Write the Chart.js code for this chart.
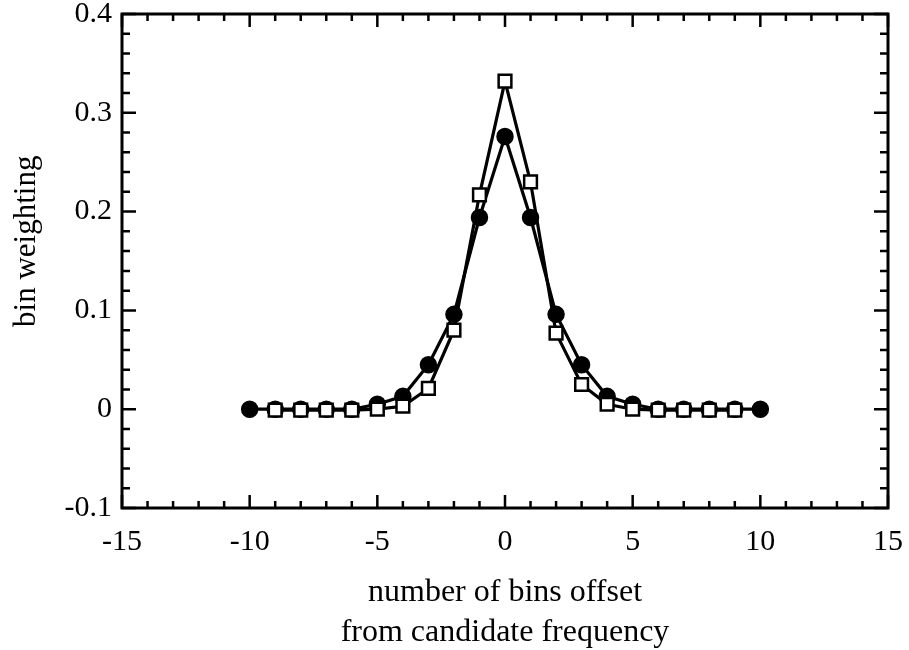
<!DOCTYPE html>
<html>
<head>
<meta charset="utf-8">
<script src="https://cdn.jsdelivr.net/npm/chart.js@4.4.1/dist/chart.umd.min.js"></script>
<style>
  html, body { margin: 0; padding: 0; background: #fff; }
  #c { display: block; }
</style>
</head>
<body>
<canvas id="c" width="909" height="650"></canvas>
<script>
// ---- data ----
const circleX = [-10, -9, -8, -7, -6, -5, -4, -3, -2, -1, 0, 1, 2, 3, 4, 5, 6, 7, 8, 9, 10];
const circleY = [0, 0, 0, 0, 0, 0.005, 0.013, 0.045, 0.096, 0.194, 0.276, 0.194, 0.096, 0.045, 0.013, 0.005, 0, 0, 0, 0, 0];
const squareX = [-9, -8, -7, -6, -5, -4, -3, -2, -1, 0, 1, 2, 3, 4, 5, 6, 7, 8, 9];
const squareY = [-0.001, -0.001, -0.001, -0.001, 0, 0.003, 0.021, 0.080, 0.217, 0.332, 0.230, 0.077, 0.025, 0.005, 0, -0.001, -0.001, -0.001, -0.001];
const xTickValues = [-15, -10, -5, 0, 5, 10, 15];
const yTickValues = [-0.1, 0, 0.1, 0.2, 0.3, 0.4];
const xTitleLines = ['number of bins offset', 'from candidate frequency'];
const yTitle = 'bin weighting';

const FONT = "'Liberation Serif', 'Times New Roman', Times, serif";

const toPts = (xs, ys) => xs.map((x, i) => ({ x: x, y: ys[i] }));

// frame + inward ticks on all four sides, positioned through the chart's scales
const frameTicks = {
  id: 'frameTicks',
  afterDraw(chart) {
    const { ctx, chartArea: a, scales: { x, y } } = chart;
    ctx.save();
    ctx.strokeStyle = '#000';
    ctx.lineCap = 'butt';
    ctx.lineWidth = 2.5;
    for (let i = -15; i <= 15; i++) {
      const px = x.getPixelForValue(i);
      const len = (i % 5 === 0) ? 13 : 7;
      ctx.beginPath();
      ctx.moveTo(px, a.bottom); ctx.lineTo(px, a.bottom - len);
      ctx.moveTo(px, a.top); ctx.lineTo(px, a.top + len);
      ctx.stroke();
    }
    for (let i = -5; i <= 20; i++) {
      const py = y.getPixelForValue(i * 0.02);
      const len = (i % 5 === 0) ? 14 : 8;
      ctx.beginPath();
      ctx.moveTo(a.left, py); ctx.lineTo(a.left + len, py);
      ctx.moveTo(a.right, py); ctx.lineTo(a.right - len, py);
      ctx.stroke();
    }
    ctx.lineWidth = 3;
    ctx.strokeRect(a.left, a.top, a.right - a.left, a.bottom - a.top);

    // y-axis title (rotated), placed slightly above the plot's middle as in the reference
    ctx.fillStyle = '#000';
    ctx.font = "31px " + FONT;
    ctx.textAlign = 'center';
    ctx.textBaseline = 'middle';
    ctx.translate(27, y.getPixelForValue(0.17));
    ctx.rotate(-Math.PI / 2);
    ctx.fillText(yTitle, 0, 0);
    ctx.restore();
  }
};

new Chart(document.getElementById('c'), {
  type: 'scatter',
  data: {
    datasets: [
      {
        label: 'squares',
        data: toPts(squareX, squareY),
        showLine: true,
        borderColor: '#000',
        borderWidth: 3.2,
        pointStyle: 'rect',
        pointRadius: 9,
        pointBackgroundColor: '#fff',
        pointBorderColor: '#000',
        pointBorderWidth: 2.5,
        order: 1
      },
      {
        label: 'circles',
        data: toPts(circleX, circleY),
        showLine: true,
        borderColor: '#000',
        borderWidth: 3.2,
        pointStyle: 'circle',
        pointRadius: 8,
        pointBackgroundColor: '#000',
        pointBorderColor: '#000',
        pointBorderWidth: 1.5,
        order: 2
      }
    ]
  },
  options: {
    responsive: false,
    animation: false,
    events: [],
    layout: { padding: { top: 14, right: 21, left: 0, bottom: 0 } },
    plugins: { legend: { display: false }, tooltip: { enabled: false } },
    scales: {
      x: {
        type: 'linear',
        min: -15, max: 15,
        afterBuildTicks: (s) => { s.ticks = xTickValues.map(v => ({ value: v })); },
        afterFit: (s) => { s.height = 142; s.paddingLeft = 0; s.paddingRight = 0; },
        grid: { display: false, drawTicks: false },
        border: { display: false },
        ticks: {
          color: '#000',
          padding: 19,
          maxRotation: 0,
          autoSkip: false,
          font: { family: FONT, size: 30, lineHeight: 1.0 },
          callback: (v) => String(v)
        },
        title: {
          display: true,
          text: xTitleLines,
          color: '#000',
          font: { family: FONT, size: 32, lineHeight: 1.25 },
          padding: { top: 0, bottom: -3 }
        }
      },
      y: {
        type: 'linear',
        min: -0.1, max: 0.4,
        afterBuildTicks: (s) => { s.ticks = yTickValues.map(v => ({ value: v })); },
        afterFit: (s) => { s.width = 122; s.paddingTop = 0; s.paddingBottom = 0; },
        grid: { display: false, drawTicks: false },
        border: { display: false },
        ticks: {
          color: '#000',
          padding: 10,
          autoSkip: false,
          font: { family: FONT, size: 30, lineHeight: 1.0 },
          callback: (v) => Math.abs(v) < 1e-9 ? '0' : Number(v).toFixed(1)
        },
        title: { display: false }
      }
    }
  },
  plugins: [frameTicks]
});
</script>
</body>
</html>
